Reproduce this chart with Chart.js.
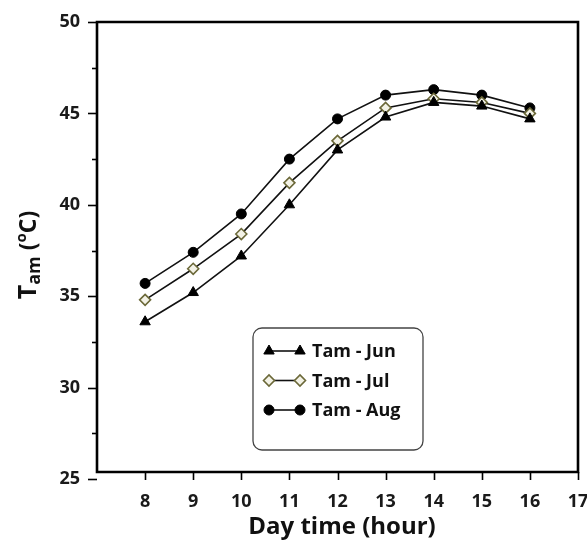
<!DOCTYPE html>
<html>
<head>
<meta charset="utf-8">
<script src="https://cdn.jsdelivr.net/npm/chart.js@4/dist/chart.umd.min.js"></script>
<style>
  html, body { margin: 0; padding: 0; background: #fff; }
  #wrap { width: 587px; height: 545px; position: relative; }
</style>
</head>
<body>
<div id="wrap"><canvas id="chart"></canvas></div>
<script>
// --- DATA ---
const hours = [8, 9, 10, 11, 12, 13, 14, 15, 16];
const tamJun = [33.6, 35.2, 37.2, 40.0, 43.0, 44.8, 45.6, 45.4, 44.7];
const tamJul = [34.8, 36.5, 38.4, 41.2, 43.5, 45.3, 45.8, 45.6, 45.0];
const tamAug = [35.7, 37.4, 39.5, 42.5, 44.7, 46.0, 46.3, 46.0, 45.3];
const seriesNames = ['Tam - Jun', 'Tam - Jul', 'Tam - Aug'];
const xTicks = [8, 9, 10, 11, 12, 13, 14, 15, 16, 17];
const yMajorTicks = [25, 30, 35, 40, 45, 50];

const toPoints = arr => hours.map((h, i) => ({ x: h, y: arr[i] }));

const styles = [
    { pointStyle: 'triangle', pointRadius: 6, backgroundColor: '#000', borderColor: '#000', pointBorderWidth: 1 },
    { pointStyle: 'rectRot', pointRadius: 5.5, backgroundColor: '#f3f2e6', borderColor: '#6b6838', pointBorderWidth: 1.6 },
    { pointStyle: 'circle', pointRadius: 5, backgroundColor: '#000', borderColor: '#000', pointBorderWidth: 1 }
];

const datasets = [tamJun, tamJul, tamAug].map((arr, i) => ({
    label: seriesNames[i],
    data: toPoints(arr),
    borderColor: '#111',
    borderWidth: 1.6,
    pointStyle: styles[i].pointStyle,
    pointRadius: styles[i].pointRadius,
    pointBackgroundColor: styles[i].backgroundColor,
    pointBorderColor: styles[i].borderColor,
    pointBorderWidth: styles[i].pointBorderWidth,
    tension: 0
}));

const FONT = "'Open Sans', 'DejaVu Sans', sans-serif";

// --- frame, ticks, titles, legend ---
const decorPlugin = {
    id: 'decor',
    afterDraw(chart) {
        const { ctx, chartArea: a, scales: { x, y } } = chart;
        const axisY = a.bottom - 7; // x axis sits a little above the 25 tick
        ctx.save();
        ctx.strokeStyle = '#000';
        ctx.lineWidth = 2.6;
        ctx.beginPath();
        ctx.moveTo(a.left, axisY);
        ctx.lineTo(a.left, a.top);
        ctx.lineTo(a.right, a.top);
        ctx.lineTo(a.right, axisY);
        ctx.closePath();
        ctx.stroke();

        // y ticks, major and minor
        ctx.lineWidth = 1.6;
        for (let v = 25; v <= 50; v += 2.5) {
            const py = Math.round(y.getPixelForValue(v)) + 0.5;
            const len = v % 5 === 0 ? 9 : 5;
            ctx.beginPath();
            ctx.moveTo(a.left - len, py);
            ctx.lineTo(a.left, py);
            ctx.stroke();
        }
        // x ticks
        xTicks.forEach(v => {
            const px = Math.round(x.getPixelForValue(v)) + 0.5;
            ctx.beginPath();
            ctx.moveTo(px, axisY);
            ctx.lineTo(px, axisY + 8);
            ctx.stroke();
        });

        // axis titles
        ctx.fillStyle = '#111';
        ctx.font = `bold 24px ${FONT}`;
        ctx.textAlign = 'center';
        ctx.textBaseline = 'middle';
        ctx.fillText('Day time (hour)', 342, 527);

        ctx.translate(29, 255);
        ctx.rotate(-Math.PI / 2);
        const parts = [
            { t: 'T', size: 25, dy: 0 },
            { t: 'am', size: 18, dy: 6 },
            { t: ' (', size: 23, dy: 0 },
            { t: 'o', size: 15, dy: -7 },
            { t: 'C)', size: 23, dy: 0 }
        ];
        let total = 0;
        parts.forEach(p => { ctx.font = `bold ${p.size}px ${FONT}`; p.w = ctx.measureText(p.t).width; total += p.w; });
        let cx = -total / 2;
        ctx.textAlign = 'left';
        parts.forEach(p => {
            ctx.font = `bold ${p.size}px ${FONT}`;
            ctx.fillText(p.t, cx, p.dy);
            cx += p.w;
        });
        ctx.restore();

        // legend box
        ctx.save();
        const lx = a.left + 156, ly = a.top + 306, lw = 170, lh = 122;
        ctx.strokeStyle = '#444';
        ctx.lineWidth = 1.3;
        ctx.beginPath();
        ctx.roundRect(lx, ly, lw, lh, 9);
        ctx.stroke();
        chart.data.datasets.forEach((ds, i) => {
            const ry = ly + 23 + i * 29.5;
            const m1 = lx + 16, m2 = lx + 47;
            ctx.strokeStyle = ds.borderColor;
            ctx.lineWidth = 1.6;
            ctx.beginPath();
            ctx.moveTo(m1, ry);
            ctx.lineTo(m2, ry);
            ctx.stroke();
            [m1, m2].forEach(mx => {
                ctx.fillStyle = ds.pointBackgroundColor;
                ctx.strokeStyle = ds.pointBorderColor;
                ctx.lineWidth = ds.pointBorderWidth;
                Chart.helpers.drawPoint(ctx, { pointStyle: ds.pointStyle, radius: ds.pointRadius, borderWidth: ds.pointBorderWidth, rotation: 0 }, mx, ry);
            });
            ctx.fillStyle = '#111';
            ctx.font = `bold 18px ${FONT}`;
            ctx.textAlign = 'left';
            ctx.textBaseline = 'middle';
            ctx.fillText(ds.label, lx + 59, ry + 1);
        });
        ctx.restore();
    }
};

const noPad = s => { s.paddingTop = 0; s.paddingBottom = 0; s.paddingLeft = 0; s.paddingRight = 0; };

new Chart(document.getElementById('chart'), {
    type: 'line',
    data: { datasets },
    options: {
        responsive: true,
        maintainAspectRatio: false,
        animation: false,
        layout: { padding: { top: 22, right: 9, left: 0, bottom: 0 } },
        plugins: { legend: { display: false }, tooltip: { enabled: false } },
        scales: {
            x: {
                type: 'linear',
                min: 7,
                max: 17,
                afterFit: s => { s.height = 66; noPad(s); },
                afterBuildTicks: s => { s.ticks = xTicks.map(v => ({ value: v })); },
                grid: { display: false, drawTicks: false },
                border: { display: false },
                ticks: { padding: 12, color: '#1a1a1a', font: { family: FONT, size: 18, weight: 'bold' } }
            },
            y: {
                min: 25,
                max: 50,
                afterFit: s => { s.width = 97; noPad(s); },
                afterBuildTicks: s => { s.ticks = yMajorTicks.map(v => ({ value: v })); },
                grid: { display: false, drawTicks: false },
                border: { display: false },
                ticks: { padding: 17, color: '#1a1a1a', font: { family: FONT, size: 18, weight: 'bold' } }
            }
        }
    },
    plugins: [decorPlugin]
});
</script>
</body>
</html>
